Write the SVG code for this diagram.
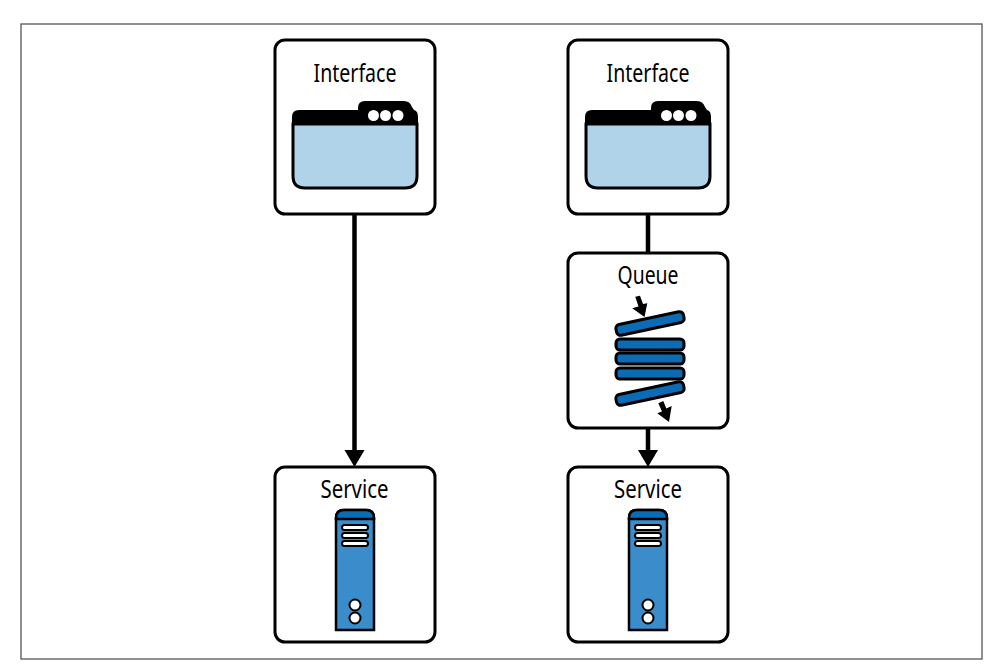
<svg xmlns="http://www.w3.org/2000/svg" width="1002" height="670" viewBox="0 0 1002 670">
<style>
.box{fill:#fff;stroke:#000;stroke-width:3}
.t{font-family:"Noto Sans","Open Sans",sans-serif;font-size:25px;fill:#000;text-anchor:middle}
.win{fill:#b1d3ea;stroke:#000;stroke-width:3}
.bar{fill:#0b6cb5;stroke:#000;stroke-width:3}
.srv{fill:#3a8ccb;stroke:#000;stroke-width:2.5}
.wh{fill:#fff;stroke:#000;stroke-width:2}
.c{stroke:#000;fill:none}
</style>
<defs>
<g id="window">
<path d="M358 110V108Q358 101 365 101H404Q410 101 412 107L414 110Q418 111 418 117V124H292V117Q292 110 299 110Z" fill="#000"/>
<path class="win" d="M293 124H417V176Q417 188 405 188H305Q293 188 293 176Z"/>
<circle cx="373.500" cy="115.500" r="5.500" fill="#fff"/><circle cx="385.500" cy="115.500" r="5.500" fill="#fff"/><circle cx="398" cy="115.500" r="5.500" fill="#fff"/>
</g>
<g id="server">
<path class="srv" d="M336 630V518Q336 510 344 510H366Q374 510 374 518V630Z"/>
<path d="M336 519V518Q336 510 344 510H366Q374 510 374 518V519Z" fill="#0b6cb5" stroke="#000" stroke-width="2.500"/>
<rect class="wh" x="342" y="525" width="26" height="5" rx="2.500"/><rect class="wh" x="342" y="533" width="26" height="5" rx="2.500"/><rect class="wh" x="342" y="541" width="26" height="5" rx="2.500"/>
<circle class="wh" cx="355" cy="605" r="5.500" stroke-width="2.500"/><circle class="wh" cx="355" cy="618" r="5.500" stroke-width="2.500"/>
</g>
</defs>
<rect x="21" y="24" width="961" height="635" fill="#fff" stroke="#555" stroke-width="1.300"/>
<g id="connectors">
<path class="c" stroke-width="4.500" d="M354.500 214V453"/>
<path d="M344.500 450H364.500L354.500 467Z"/>
<path class="c" stroke-width="4.500" d="M648 214V253"/>
<path class="c" stroke-width="4.500" d="M648 428V453"/>
<path d="M638 450H658L648 467Z"/>
</g>
<g id="interface-left">
<rect class="box" x="275" y="40" width="160" height="174" rx="10"/>
<text class="t" x="355" y="81.500" textLength="83" lengthAdjust="spacingAndGlyphs">Interface</text>
<use href="#window"/>
</g>
<g id="service-left">
<rect class="box" x="275" y="467" width="160" height="175" rx="10"/>
<text class="t" x="354.500" y="498" textLength="68" lengthAdjust="spacingAndGlyphs">Service</text>
<use href="#server"/>
</g>
<g id="interface-right">
<rect class="box" x="568" y="40" width="160" height="174" rx="10"/>
<text class="t" x="648" y="81.500" textLength="83" lengthAdjust="spacingAndGlyphs">Interface</text>
<use href="#window" x="293"/>
</g>
<g id="queue">
<rect class="box" x="568" y="253" width="160" height="175" rx="10"/>
<text class="t" x="648" y="283.500" textLength="61" lengthAdjust="spacingAndGlyphs">Queue</text>
<rect class="bar" x="616" y="339" width="68" height="11" rx="4"/>
<rect class="bar" x="616" y="353" width="68" height="11" rx="4"/>
<rect class="bar" x="616" y="368" width="68" height="11" rx="4"/>
<rect class="bar" x="615.500" y="318" width="69" height="11" rx="4" transform="rotate(-12 650 323.500)"/>
<rect class="bar" x="615.500" y="388" width="69" height="11" rx="4" transform="rotate(-12 650 393.500)"/>
<path d="M635.300 296.700L640 295.700L643 303.900L647.300 303.300L644.500 317L632.300 308.300L638.500 306.500Z"/>
<path d="M658.300 403.300L663.300 401L666.300 408.500L671.700 406L669 422L657.300 413.300L662 411.500Z"/>
</g>
<g id="service-right">
<rect class="box" x="568" y="467" width="160" height="175" rx="10"/>
<text class="t" x="648" y="498" textLength="68" lengthAdjust="spacingAndGlyphs">Service</text>
<use href="#server" x="293"/>
</g>
</svg>
